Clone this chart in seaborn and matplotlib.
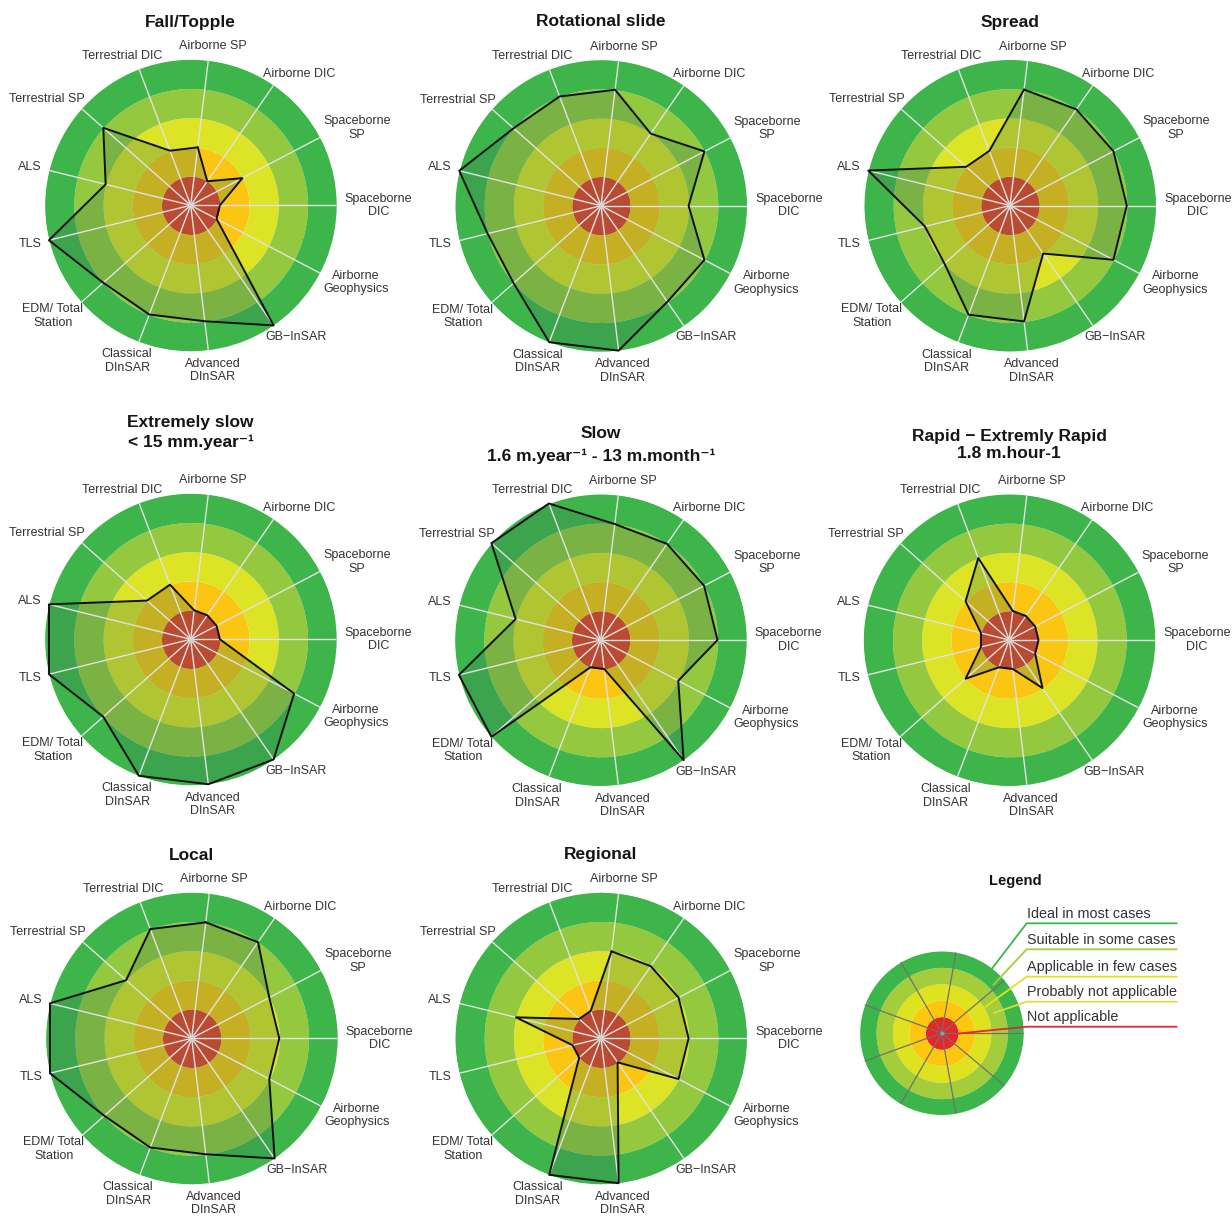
import numpy as np
import pandas as pd
import matplotlib
matplotlib.use("Agg")
import matplotlib.pyplot as plt
import seaborn as sns

# ---------------------------------------------------------------------------
# Data: suitability score (1 = not applicable ... 5 = ideal) of each
# monitoring technique, per landslide type / velocity / scale
# ---------------------------------------------------------------------------
techniques = ["Airborne SP", "Airborne DIC", "Spaceborne\nSP", "Spaceborne\nDIC",
              "Airborne\nGeophysics", "GB\u2212InSAR", "Advanced\nDInSAR",
              "Classical\nDInSAR", "EDM/ Total\nStation", "TLS", "ALS",
              "Terrestrial SP", "Terrestrial DIC"]

fall_topple      = [2, 1, 2, 1, 1, 5, 4, 4, 4, 5, 3, 4, 2]
rotational_slide = [4, 3, 4, 3, 4, 4, 5, 5, 4, 4, 5, 4, 4]
spread           = [4, 4, 4, 4, 4, 2, 4, 4, 3, 3, 5, 2, 2]
extremely_slow   = [1, 1, 1, 1, 4, 5, 5, 5, 4, 5, 5, 2, 2]
slow             = [4, 4, 4, 4, 3, 5, 1, 1, 5, 5, 3, 5, 5]
rapid            = [1, 1, 1, 1, 1, 2, 1, 1, 2, 1, 1, 2, 3]
local            = [4, 4, 3, 3, 3, 5, 4, 4, 4, 5, 5, 3, 4]
regional         = [3, 3, 3, 3, 3, 1, 5, 5, 1, 1, 3, 1, 1]

panel_titles = [
    ["Fall/Topple"],
    ["Rotational slide"],
    ["Spread"],
    ["Extremely slow", "< 15 mm.year\u207b\u00b9"],
    ["Slow", "1.6 m.year\u207b\u00b9 - 13 m.month\u207b\u00b9"],
    ["Rapid \u2212 Extremly Rapid", "1.8 m.hour-1"],
    ["Local"],
    ["Regional"],
]
panel_values = [fall_topple, rotational_slide, spread, extremely_slow, slow,
                rapid, local, regional]

levels = ["Not applicable", "Probably not applicable", "Applicable in few cases",
          "Suitable in some cases", "Ideal in most cases"]

# ---------------------------------------------------------------------------
# Styling
# ---------------------------------------------------------------------------
sns.set_theme(style="white")
plt.rcParams["font.family"] = ["Liberation Sans", "DejaVu Sans"]

ring_colors = ["#ec3a26", "#fbc612", "#dde325", "#94c83f", "#3db54a"]
legend_ring_colors = ["#e8262a", "#fdc70f", "#dfe21f", "#a3cd3b", "#3cb54b"]
legend_line_colors = ["#3cb54b", "#a3cd3b", "#e6e21e", "#e2dc3a", "#e8262a"]
overlay_color = "#3a7a52"
label_color = "#333333"

W, H = 1232, 1217
R = 146          # panel radius in pixels
fig = plt.figure(figsize=(W / 100, H / 100), dpi=100)
fig.patch.set_facecolor("white")

# panel centres (pixels from top-left) and title line heights
centres = [(190.7, 205.3), (601.0, 205.7), (1010.0, 205.5),
           (190.7, 639.3), (600.7, 640.0), (1009.3, 640.0),
           (191.7, 1038.3), (601.0, 1038.3)]
title_y = [[22], [22], [22], [422, 442], [434, 456], [436, 454], [855], [855]]

n = len(techniques)
step = 2 * np.pi / n
theta = np.deg2rad(90.0) - 3 * step + np.arange(n) * step
ring_t = np.linspace(0, 2 * np.pi, 400)

# overlay axes in pixel coordinates for all free text and leader lines
over = fig.add_axes([0, 0, 1, 1], zorder=20)
over.set_xlim(0, W)
over.set_ylim(H, 0)
over.set_axis_off()
over.patch.set_alpha(0)


def polar_axes(cx, cy, rad):
    ax = fig.add_axes([(cx - rad) / W, 1 - (cy + rad) / H, 2 * rad / W, 2 * rad / H],
                      projection="polar")
    ax.set_theta_zero_location("N")
    ax.set_theta_direction(-1)
    ax.set_ylim(0, 5)
    ax.set_axis_off()
    return ax


def draw_rings(ax, colors):
    for k, c in enumerate(colors):
        ax.fill_between(ring_t, k, k + 1, color=c, lw=0, zorder=1)


label_texts = []
for (cx, cy), vals, tlines, tys in zip(centres, panel_values, panel_titles, title_y):
    ax = polar_axes(cx, cy, R)
    draw_rings(ax, ring_colors)

    th = np.append(theta, theta[0] + 2 * np.pi)
    rr = np.append(np.array(vals, float), vals[0])
    ax.fill(th, rr, color=overlay_color, alpha=0.28, lw=0, zorder=2)

    for t in theta:
        ax.plot([t, t], [0, 5], color="#e2e2e2", lw=1.0, zorder=3,
                solid_capstyle="butt")

    df = pd.DataFrame({"angle": th, "score": rr})
    sns.lineplot(data=df, x="angle", y="score", sort=False, estimator=None,
                 color="#111111", lw=1.4, ax=ax, zorder=4)
    for ln in ax.lines[-1:]:
        ln.set_clip_on(False)
    ax.scatter([0], [0], s=16, color="#d4d4d4", lw=0, zorder=5)

    for line, y in zip(tlines, tys):
        over.text(cx, y, line, ha="center", va="center", fontsize=12.5,
                  fontweight="bold", color="#151515")

    for t, name in zip(theta, techniques):
        txt = over.text(cx, cy, name, ha="center", va="center", fontsize=9.0,
                        color=label_color, multialignment="center",
                        linespacing=1.15)
        label_texts.append((txt, cx, cy, t))

# place technique labels just outside each circle, pushed out by text size
renderer = fig.canvas.get_renderer()
pad = 8
for txt, cx, cy, t in label_texts:
    bb = txt.get_window_extent(renderer)
    w, h = bb.width, bb.height
    s, c = np.sin(t), np.cos(t)
    x = cx + (R + pad) * s + 0.5 * w * s
    y = cy - (R + pad) * c - 0.5 * h * c
    txt.set_position((x, y))

# ---------------------------------------------------------------------------
# Legend panel
# ---------------------------------------------------------------------------
lcx, lcy, lr = 941.7, 1033.0, 82.0
lax = polar_axes(lcx, lcy, lr)
draw_rings(lax, legend_ring_colors)
for a in np.deg2rad(10 + 40 * np.arange(9)):
    lax.plot([a, a], [0, 5], color="#707070", lw=0.9, zorder=3)
lax.scatter([0], [0], s=8, color="#9a9a9a", lw=0, zorder=5)

over.text(1015, 881, "Legend", ha="center", va="center", fontsize=10.6,
          fontweight="bold", color="#151515")

unit = lr / 5
# leader line start (radius in ring units, angle clockwise from north)
starts = [(4.6, 38), (4.3, 47), (3.1, 59), (3.4, 69), (1.0, 92)]
bend_y = [923.3, 949.3, 976.7, 1001.7, 1026.7]
for lvl, (ru, ang), by, col in zip(levels[::-1], starts, bend_y, legend_line_colors):
    a = np.deg2rad(ang)
    sx = lcx + ru * unit * np.sin(a)
    sy = lcy - ru * unit * np.cos(a)
    over.plot([sx, 1026.7, 1176.7], [sy, by, by], color=col, lw=1.3,
              solid_joinstyle="miter")
    over.text(1027, by - 2.5, lvl, ha="left", va="bottom", fontsize=10.4,
              color=label_color)

fig.savefig("out.png", dpi=100, facecolor="white")
